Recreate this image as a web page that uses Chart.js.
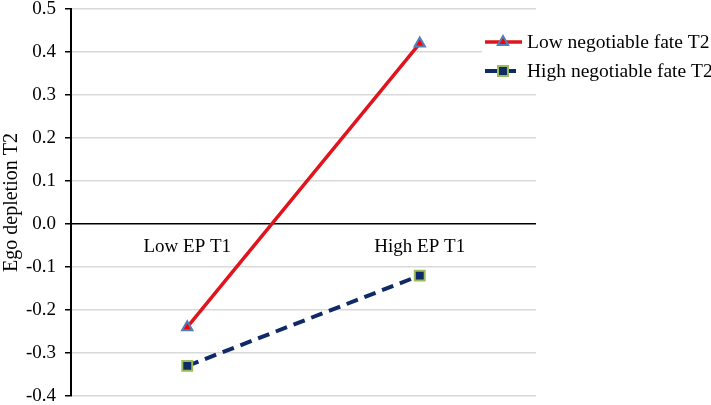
<!DOCTYPE html>
<html>
<head>
<meta charset="utf-8">
<script src="https://cdn.jsdelivr.net/npm/chart.js@4"></script>
<style>
  html, body { margin: 0; padding: 0; background: #fff; }
  #wrap { width: 711px; height: 405px; }
</style>
</head>
<body>
<div id="wrap"><canvas id="chart"></canvas></div>
<script>
const categories = ['Low EP T1', 'High EP T1'];
const seriesNames = ['Low negotiable fate T2', 'High negotiable fate T2'];
const lowFateT2 = [-0.24, 0.42];
const highFateT2 = [-0.33, -0.12];
const yMin = -0.4;
const yMax = 0.5;
const yStep = 0.1;

const FONT = '"Liberation Serif", "Times New Roman", serif';

// legend sits on top of the right part of the plot, like the original
const legendPlugin = {
  id: 'overlayLegend',
  afterDraw(chart) {
    const ctx = chart.ctx;
    ctx.save();
    ctx.fillStyle = '#fff';
    ctx.fillRect(482, 26, 229, 60);
    const rows = [42, 71];
    chart.data.datasets.forEach((ds, i) => {
      const y = rows[i];
      ctx.strokeStyle = ds.borderColor;
      ctx.lineWidth = ds.borderWidth;
      ctx.setLineDash(ds.borderDash || []);
      ctx.beginPath();
      ctx.moveTo(485, y);
      ctx.lineTo(522, y);
      ctx.stroke();
      ctx.setLineDash([]);
      ctx.fillStyle = ds.pointBackgroundColor;
      ctx.strokeStyle = ds.pointBorderColor;
      ctx.lineWidth = ds.pointBorderWidth;
      Chart.helpers.drawPoint(ctx, {pointStyle: ds.pointStyle, radius: ds.pointRadius, borderWidth: ds.pointBorderWidth}, 503, y);
      ctx.fillStyle = '#000';
      ctx.font = '19.5px ' + FONT;
      ctx.textBaseline = 'middle';
      ctx.textAlign = 'left';
      ctx.fillText(ds.label, 527, y + 1);
    });
    ctx.restore();
  }
};

new Chart(document.getElementById('chart'), {
  type: 'line',
  data: {
    labels: categories,
    datasets: [{
      label: seriesNames[0],
      data: lowFateT2,
      borderColor: '#e0141c',
      borderWidth: 3.5,
      pointStyle: 'triangle',
      pointRadius: 6,
      pointBackgroundColor: '#ff0000',
      pointBorderColor: '#4f81bd',
      pointBorderWidth: 2
    }, {
      label: seriesNames[1],
      data: highFateT2,
      borderColor: '#0f2a66',
      borderWidth: 4,
      borderDash: [12, 7],
      pointStyle: 'rect',
      pointRadius: 7,
      pointBackgroundColor: '#0f2a66',
      pointBorderColor: '#9bbb59',
      pointBorderWidth: 2
    }]
  },
  options: {
    responsive: true,
    maintainAspectRatio: false,
    animation: false,
    layout: { padding: { top: 8, right: 175, bottom: 8, left: 0 } },
    plugins: { legend: { display: false }, tooltip: { enabled: false } },
    scales: {
      x: {
        type: 'category',
        offset: true,
        position: { y: 0 },
        grid: { display: false, drawTicks: false },
        border: { display: false },
        ticks: { color: '#000', font: { family: FONT, size: 19 }, padding: 12 },
        afterFit(scale) { scale.height = 0; }
      },
      y: {
        min: yMin,
        max: yMax,
        border: { color: '#000', width: 2 },
        grid: {
          color: c => (Math.abs(c.tick.value) < 1e-9 ? '#000' : '#d9d9d9'),
          lineWidth: 1.5,
          tickColor: '#000',
          tickLength: 6
        },
        ticks: {
          stepSize: yStep,
          color: '#000',
          font: { family: FONT, size: 19 },
          padding: 9,
          callback: v => Number(v).toFixed(1)
        },
        title: {
          display: true,
          text: 'Ego depletion T2',
          color: '#000',
          font: { family: FONT, size: 20 },
          padding: { top: 0, bottom: 0 }
        },
        afterFit(scale) { scale.width = 71; scale.paddingTop = 0; scale.paddingBottom = 0; }
      }
    }
  },
  plugins: [legendPlugin]
});
</script>
</body>
</html>
